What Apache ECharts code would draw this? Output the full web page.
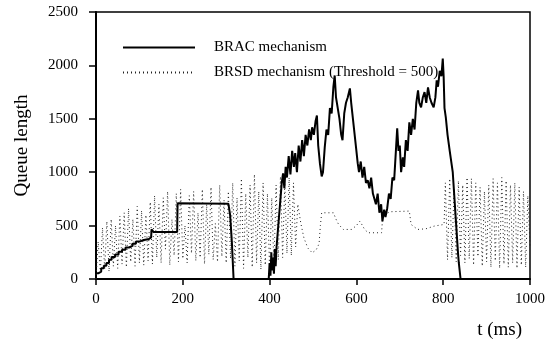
<!DOCTYPE html>
<html>
<head>
<meta charset="utf-8">
<script src="https://cdn.jsdelivr.net/npm/echarts@6/dist/echarts.min.js"></script>
<style>
  html, body { margin: 0; padding: 0; background: #fff; }
  #chart { width: 548px; height: 342px; }
</style>
</head>
<body>
<div id="chart"></div>
<script>
var seriesNames = ['BRAC mechanism', 'BRSD mechanism (Threshold = 500)'];
var xTicks = [0, 200, 400, 600, 800, 1000];
var yTicks = [0, 500, 1000, 1500, 2000, 2500];

// BRAC queue length, [t (ms), queue]
var brac = [
    [0, 55], [6, 55], [6, 70], [12, 70], [12, 100], [18, 100], [18, 125], [24, 125], [24, 150],
    [30, 150], [30, 180], [36, 180], [36, 205], [44, 205], [44, 230], [52, 230], [52, 255],
    [60, 255], [60, 275], [68, 275], [68, 295], [76, 295], [76, 310], [84, 310], [84, 330],
    [92, 330], [92, 350], [100, 350], [100, 365], [110, 365], [110, 375], [122, 375], [122, 390],
    [127, 390], [128, 465], [133, 440], [187, 440], [188, 710], [305, 705], [309, 600], [313, 350],
    [317, 0], [398, 0], [400, 150], [402, 30], [404, 250], [406, 80], [408, 200], [410, 50],
    [412, 280], [414, 120], [416, 300], [420, 500], [424, 700], [428, 900], [431, 990], [434, 850],
    [437, 1050], [440, 950], [444, 1150], [448, 980], [452, 1200], [456, 1050], [459, 1180],
    [463, 1000], [467, 1250], [471, 1100], [475, 1300], [479, 1150], [483, 1350], [487, 1250],
    [491, 1400], [495, 1300], [498, 1420], [502, 1350], [506, 1480], [509, 1530], [512, 1250],
    [516, 1080], [520, 960], [523, 1000], [527, 1230], [531, 1400], [535, 1350], [539, 1600],
    [543, 1550], [547, 1800], [550, 1906], [553, 1700], [557, 1600], [561, 1500], [565, 1350],
    [568, 1300], [572, 1550], [576, 1650], [580, 1700], [585, 1785], [588, 1650], [592, 1500],
    [596, 1350], [600, 1200], [603, 1084], [606, 1000], [610, 1100], [614, 950], [618, 1050],
    [622, 900], [626, 925], [630, 850], [634, 950], [638, 800], [641, 804], [645, 700],
    [649, 800], [653, 620], [657, 700], [660, 540], [664, 650], [667, 580], [671, 663],
    [675, 800], [679, 750], [683, 950], [687, 925], [691, 1200], [694, 1411], [697, 1200],
    [700, 1250], [703, 1000], [707, 1140], [710, 1050], [714, 1300], [718, 1200], [722, 1467],
    [726, 1350], [730, 1500], [734, 1400], [738, 1650], [742, 1766], [745, 1650], [749, 1607],
    [753, 1700], [757, 1750], [761, 1650], [765, 1794], [769, 1700], [773, 1650], [778, 1607],
    [782, 1700], [785, 1860], [788, 1800], [792, 1950], [796, 1900], [799, 2065], [801, 1900],
    [803, 1600], [806, 1514], [810, 1350], [815, 1200], [822, 1000], [826, 750], [830, 500],
    [834, 250], [836, 150], [840, 0], [1000, 0]
];

// BRSD queue length: fast oscillation sampled every 5 ms from t = 0 to 460
var brsdStep = 5;
var brsdEarly = [
    0, 350, 60, 480, 90, 540, 70, 560, 120, 500, 100, 590, 140, 620, 110, 660,
    160, 560, 120, 680, 150, 640, 130, 600, 170, 720, 140, 780, 200, 700, 150, 760,
    280, 820, 130, 560, 220, 800, 160, 840, 190, 500, 150, 780, 240, 820, 170, 620,
    200, 840, 140, 700, 230, 860, 180, 520, 160, 880, 210, 740, 150, 820, 190, 900,
    120, 760, 170, 940, 100, 800, 200, 880, 110, 980, 150, 820, 90, 900, 130, 800,
    80, 760, 120, 880, 180, 960, 200, 900, 240, 950, 220, 900, 300
];
// BRSD smoother part, [t (ms), queue]
var brsdMiddle = [
    [465, 700], [472, 520], [479, 386], [488, 290], [498, 246], [507, 270], [514, 330],
    [517, 500], [520, 620], [547, 620], [553, 560], [559, 511], [570, 464], [589, 464],
    [600, 500], [608, 542], [614, 500], [619, 464], [627, 433], [658, 433], [661, 605],
    [680, 630], [722, 636], [726, 511], [741, 464], [760, 470], [779, 495], [802, 511]
];
// BRSD fast oscillation again, every 5 ms from t = 805 to 1000
var brsdLate = [
    900, 180, 940, 200, 850, 160, 920, 220, 880, 150, 950, 190, 940, 130, 900, 210,
    860, 120, 820, 160, 880, 110, 940, 170, 900, 100, 950, 140, 920, 110, 880, 150,
    900, 100, 860, 130, 820, 110, 780, 300
];

var brsd = [];
brsdEarly.forEach(function (v, i) { brsd.push([i * brsdStep, v]); });
brsdMiddle.forEach(function (p) { brsd.push(p); });
brsdLate.forEach(function (v, i) { brsd.push([805 + i * brsdStep, v]); });

var serif = 'Liberation Serif';
var plain = function (v) { return String(v); };
var chart = echarts.init(document.getElementById('chart'));
var option = {
    animation: false,
    backgroundColor: '#fff',
    grid: {
        left: 96,
        right: 14,
        top: 12,
        bottom: 63,
        show: true,
        borderColor: '#000',
        borderWidth: 1.5
    },
    legend: {
        data: seriesNames,
        orient: 'vertical',
        left: 117,
        top: 35,
        z: 1,
        itemWidth: 72,
        itemHeight: 14,
        itemGap: 10,
        itemStyle: { opacity: 0 },
        textStyle: {
            fontFamily: serif,
            fontSize: 15,
            color: '#000',
            padding: [0, 0, 0, 14]
        }
    },
    xAxis: {
        type: 'value',
        min: xTicks[0],
        max: xTicks[xTicks.length - 1],
        interval: 200,
        name: 't (ms)',
        nameLocation: 'end',
        nameGap: -8,
        nameTextStyle: {
            fontFamily: serif,
            fontSize: 19,
            color: '#000',
            align: 'right',
            verticalAlign: 'top',
            padding: [42, 0, 0, 0]
        },
        axisLine: { lineStyle: { color: '#000', width: 2 } },
        axisTick: { length: 6, lineStyle: { color: '#000', width: 1.5 } },
        axisLabel: { fontFamily: serif, fontSize: 15, color: '#000', margin: 13, formatter: plain },
        splitLine: { show: false }
    },
    yAxis: {
        type: 'value',
        min: yTicks[0],
        max: yTicks[yTicks.length - 1],
        interval: 500,
        name: 'Queue length',
        nameLocation: 'middle',
        nameRotate: 90,
        nameGap: 64,
        nameTextStyle: { fontFamily: serif, fontSize: 19, color: '#000' },
        axisLine: { show: true, lineStyle: { color: '#000', width: 2 } },
        axisTick: { show: true, length: 7, lineStyle: { color: '#000', width: 1.5 } },
        axisLabel: { fontFamily: serif, fontSize: 15, color: '#000', margin: 18, formatter: plain },
        splitLine: { show: false }
    },
    series: [
        {
            name: seriesNames[1],
            type: 'line',
            data: brsd,
            symbol: 'none',
            z: 2,
            lineStyle: { color: '#222', width: 1, type: [1, 3] }
        },
        {
            name: seriesNames[0],
            type: 'line',
            data: brac,
            symbol: 'none',
            z: 3,
            lineStyle: { color: '#000', width: 2 }
        }
    ]
};
chart.setOption(option);
</script>
</body>
</html>
